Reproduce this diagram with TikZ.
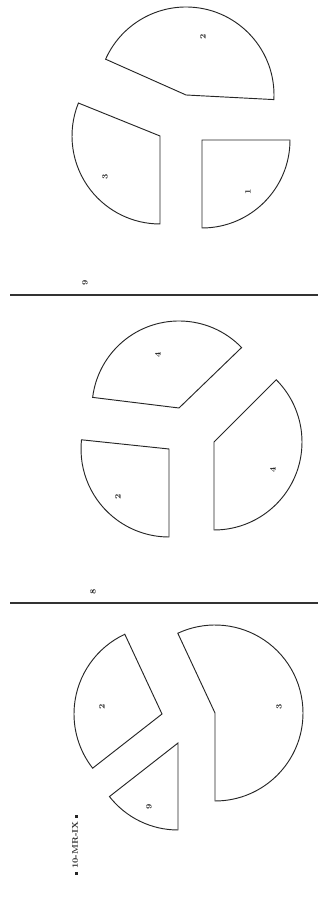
\documentclass[tikz,border=0pt]{standalone}

\tikzset{
  piece/.style={draw=black!85, line width=0.8pt},
  cut/.style={draw=black!80, line width=1pt},
  lbl/.style={font=\scriptsize\bfseries, rotate=90, inner sep=1pt, text=black!85}
}

\begin{document}
\begin{tikzpicture}[x=0.03cm,y=0.03cm]
	\useasboundingbox (0,0) rectangle (320,900);
	% first pie
	\draw[piece] (186,805) -- ++(-3:88) arc[start angle=-3, end angle=156, radius=88] -- cycle;
	\draw[piece] (160,764) -- ++(158:88) arc[start angle=158, end angle=270, radius=88] -- cycle;
	\draw[piece] (202,760) -- ++(-90:88) arc[start angle=-90, end angle=0, radius=88] -- cycle;
	\node[lbl] (a1) at (203,863) {2};
	\node[lbl] (a2) at (105,723) {3};
	\node[lbl] (a3) at (248,708) {1};

	% separators
	\draw[cut] (10,605) -- (318,605);
	\node[lbl] (s1) at (85,617) {9};
	\draw[cut] (10,297) -- (318,297);
	\node[lbl] (s2) at (93,308) {8};

	% second pie
	\draw[piece] (179,492) -- ++(44:87) arc[start angle=44, end angle=173, radius=87] -- cycle;
	\draw[piece] (169,451) -- ++(174:88) arc[start angle=174, end angle=270, radius=88] -- cycle;
	\draw[piece] (214,458) -- ++(-90:88) arc[start angle=-90, end angle=45, radius=88] -- cycle;
	\node[lbl] (b1) at (158,545) {4};
	\node[lbl] (b2) at (118,403) {2};
	\node[lbl] (b3) at (273,430) {4};

	% third pie
	\draw[piece] (162,186) -- ++(115:88) arc[start angle=115, end angle=218, radius=88] -- cycle;
	\draw[piece] (178,157) -- ++(218:87) arc[start angle=218, end angle=270, radius=87] -- cycle;
	\draw[piece] (215,187) -- ++(-90:88) arc[start angle=-90, end angle=115, radius=88] -- cycle;
	\node[lbl] (c1) at (102,193) {2};
	\node[lbl] (c2) at (149,93) {9};
	\node[lbl] (c3) at (279,193) {3};

	% sheet mark
	\node[lbl] (mark) at (75,55) {\rule{2pt}{2pt}\ 10-MR-IX\ \rule{2pt}{2pt}};
\end{tikzpicture}
\end{document}
